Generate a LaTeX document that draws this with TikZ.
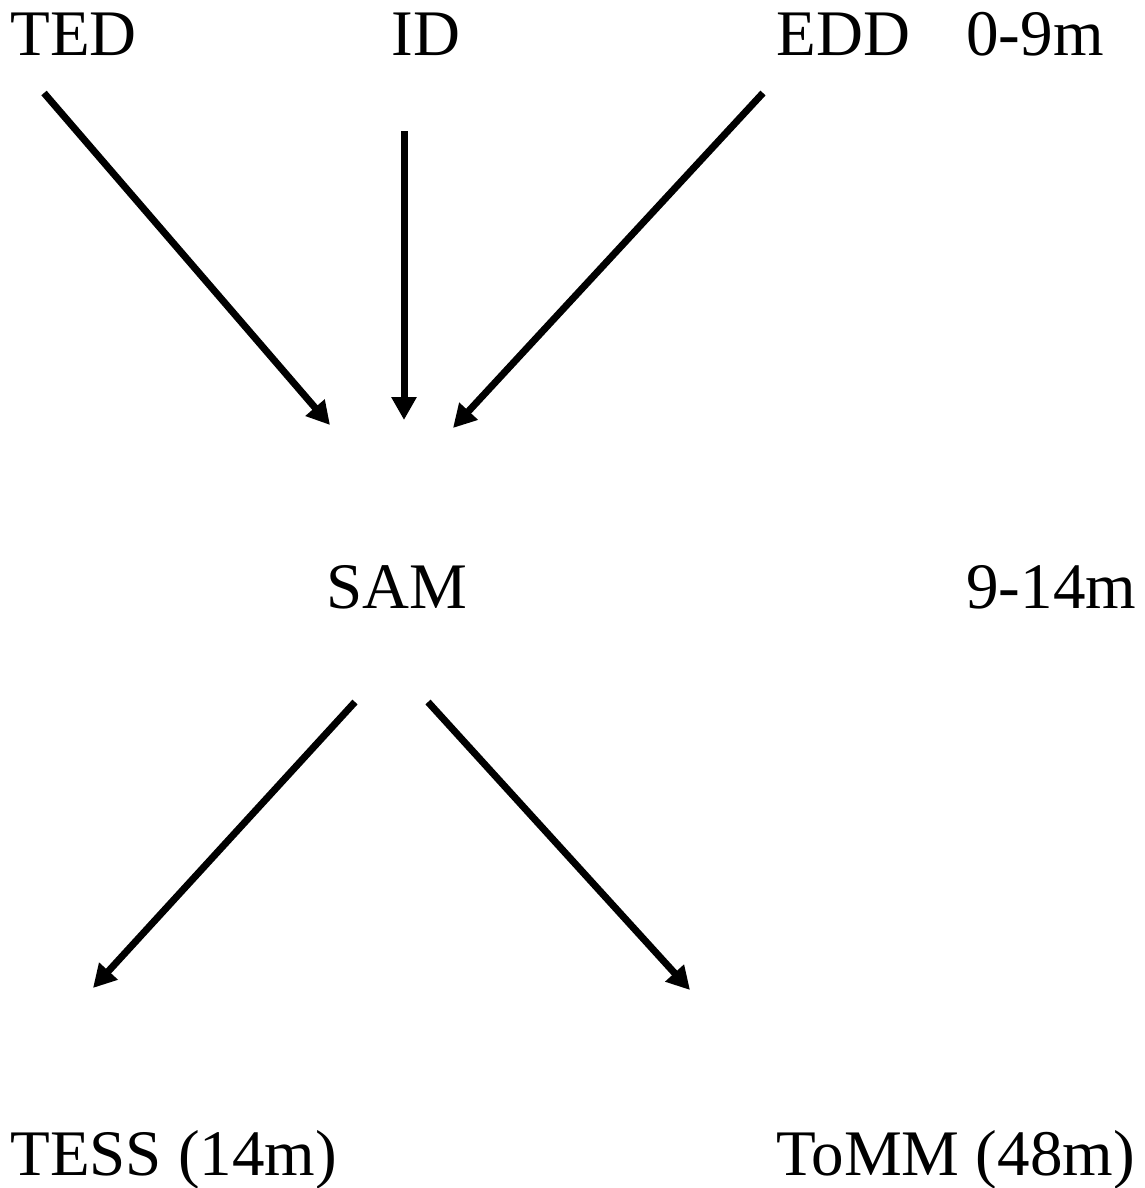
\documentclass[tikz,border=0pt]{standalone}
\usepackage{fontspec}
\setmainfont{Liberation Serif}
\usetikzlibrary{arrows.meta}

\begin{document}
\begin{tikzpicture}[x=0.02cm,y=-0.02cm,>={Triangle[length=0.46cm,width=0.48cm]}]

    % cadre de l'image
    \useasboundingbox (0,0) rectangle (1145,1188);
    \tikzset{lbl/.style={anchor=base west,inner sep=0pt,font=\fontsize{37}{44}\selectfont}}
    \tikzset{flow/.style={->,line width=0.14cm}}

    % Les etiquettes
    \node[lbl] (ted) at (10,55) {TED};
    \node[lbl] (id) at (391,55) {ID};
    \node[lbl] (edd) at (776,55) {EDD};
    \node[lbl] (t1) at (966,55) {0-9m};
    \node[lbl] (sam) at (326,608) {SAM};
    \node[lbl] (t2) at (966,608) {9-14m};
    \node[lbl] (tess) at (10,1175) {TESS (14m)};
    \node[lbl] (tomm) at (776,1175) {ToMM (48m)};

    % Les bouts des fleches
    \coordinate (ted-out) at (44,93);
    \coordinate (id-out) at (404,131);
    \coordinate (edd-out) at (763,93);
    \coordinate (sam-in1) at (330,425);
    \coordinate (sam-in2) at (404,420);
    \coordinate (sam-in3) at (453,428);
    \coordinate (sam-out1) at (355,702);
    \coordinate (sam-out2) at (428,702);
    \coordinate (tess-in) at (93,988);
    \coordinate (tomm-in) at (690,990);

    % Les fleches
    \draw[flow] (ted-out) -- (sam-in1);
    \draw[flow] (id-out) -- (sam-in2);
    \draw[flow] (edd-out) -- (sam-in3);
    \draw[flow] (sam-out1) -- (tess-in);
    \draw[flow] (sam-out2) -- (tomm-in);
\end{tikzpicture}
\end{document}
